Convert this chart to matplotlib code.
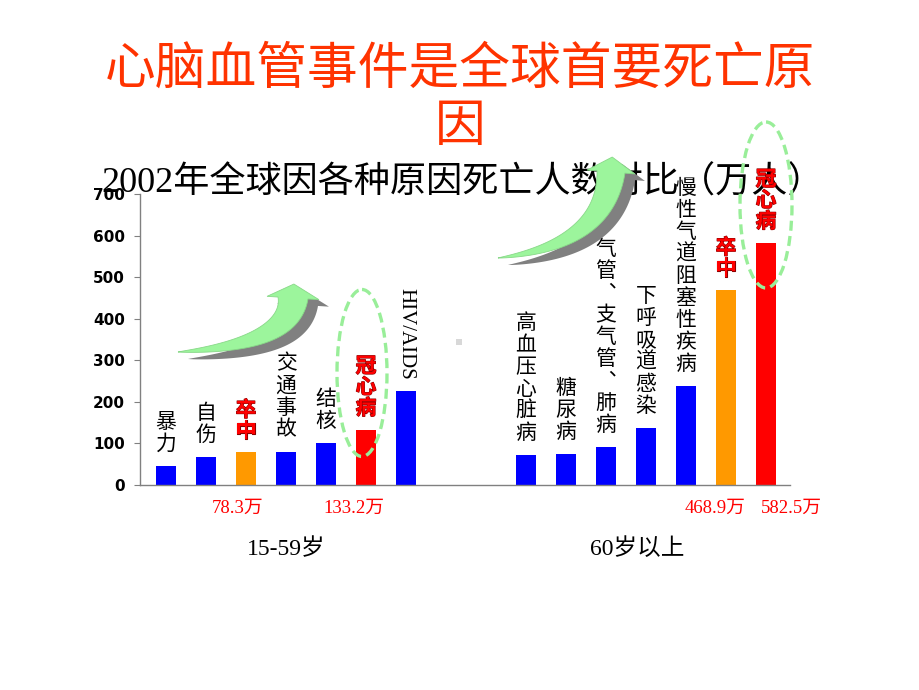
import numpy as np
import matplotlib
matplotlib.use("Agg")
import matplotlib.pyplot as plt
from matplotlib.patches import Polygon, Ellipse, Rectangle
import matplotlib.patheffects as pe

plt.rcParams['font.family'] = ['Noto Sans CJK SC', 'DejaVu Sans']

# ---------------- data ----------------
young_causes = ["暴力", "自伤", "卒中", "交通事故", "结核", "冠心病", "HIV/AIDS"]
young_values = [46, 67, 78.3, 80, 101, 133.2, 226]
young_colors = ["#0000FF", "#0000FF", "#FF9900", "#0000FF", "#0000FF", "#FF0000", "#0000FF"]

old_causes = ["高血压心脏病", "糖尿病", "气管、支气管、肺病", "下呼吸道感染",
              "慢性气道阻塞性疾病", "卒中", "冠心病"]
old_values = [72, 74, 91, 137, 238, 468.9, 582.5]
old_colors = ["#0000FF", "#0000FF", "#0000FF", "#0000FF", "#0000FF", "#FF9900", "#FF0000"]

highlight = ["卒中", "冠心病"]
value_unit = "万"
group_labels = ["15-59岁", "60岁以上"]
y_ticks = [0, 100, 200, 300, 400, 500, 600, 700]

title_line1 = "心脑血管事件是全球首要死亡原"
title_line2 = "因"
subtitle = "2002年全球因各种原因死亡人数对比（万人）"

# ---------------- figure ----------------
fig = plt.figure(figsize=(9.2, 6.9), dpi=100)
W, H = 920, 690

def fx(px):
    return px / W

def fy(py):
    return 1 - py / H

fig.text(fx(460), fy(70), title_line1, color="#FF3300", fontsize=36.5,
         ha="center", va="center")
fig.text(fx(460), fy(127), title_line2, color="#FF3300", fontsize=36.5,
         ha="center", va="center")
fig.text(fx(463), fy(183), subtitle, fontsize=26, ha="center", va="center",
         family=['Liberation Serif', 'Noto Sans CJK SC'], zorder=0.5)

ax = fig.add_axes([fx(140), fy(485), fx(790) - fx(140), fy(194) - fy(485)], zorder=1)
ax.set_facecolor("none")

pos_young = list(range(len(young_causes)))
pos_old = [i + len(young_causes) + 2 for i in range(len(old_causes))]

positions = pos_young + pos_old
values = young_values + old_values
colors = young_colors + old_colors
causes = young_causes + old_causes

ax.bar(positions, values, width=0.5, color=colors, edgecolor="none", zorder=2)

ax.set_xlim(-0.65, 15.6)
ax.set_ylim(0, 700)
ax.set_yticks(y_ticks)
ax.set_yticklabels([str(v) for v in y_ticks], fontweight="bold", fontsize=11,
                   family="DejaVu Sans")
ax.tick_params(axis="y", length=4, color="#808080", pad=7)
ax.set_xticks([])
for s in ["top", "right"]:
    ax.spines[s].set_visible(False)
for s in ["left", "bottom"]:
    ax.spines[s].set_color("#808080")
    ax.spines[s].set_linewidth(1)


def vertical(name):
    return "\n".join("\ufe11" if ch == "、" else ch for ch in name)


# bar labels
for x, v, name in zip(positions, values, causes):
    if name == "HIV/AIDS":
        ax.annotate(name, (x, v), xytext=(0, 8), textcoords="offset points",
                    ha="center", va="bottom", rotation=270, fontsize=15,
                    family="Liberation Serif", annotation_clip=False)
        continue
    txt = vertical(name)
    if name in highlight:
        t = ax.annotate(txt, (x, v), xytext=(0, 8), textcoords="offset points",
                        ha="center", va="bottom", fontsize=15, color="#FF0000",
                        fontweight="bold", linespacing=1.0, annotation_clip=False)
        t.set_path_effects([pe.Stroke(linewidth=0.8, foreground="#8A0000"), pe.Normal()])
    else:
        ax.annotate(txt, (x, v), xytext=(0, 8), textcoords="offset points",
                    ha="center", va="bottom", fontsize=15, color="black",
                    linespacing=1.0, annotation_clip=False)

# value notes under highlighted bars
note_offsets = [-6, -9, -8, 18]
k = 0
for x, v, name in zip(positions, values, causes):
    if name in highlight:
        ax.annotate(f"{v:.1f}{value_unit}", (x, 0), xytext=(note_offsets[k], -17),
                    textcoords="offset points", ha="center", va="center",
                    fontsize=13.5, color="#FF0000",
                    family=['Liberation Serif', 'Noto Sans CJK SC'],
                    annotation_clip=False)
        k += 1

# group labels
ax.annotate(group_labels[0], (np.mean(pos_young), 0), xytext=(0, -46),
            textcoords="offset points", ha="center", va="center", fontsize=17,
            family=['Liberation Serif', 'Noto Sans CJK SC'], annotation_clip=False)
ax.annotate(group_labels[1], (np.mean(pos_old), 0), xytext=(-6, -46),
            textcoords="offset points", ha="center", va="center", fontsize=17,
            family=['Liberation Serif', 'Noto Sans CJK SC'], annotation_clip=False)

# ---------------- decorations overlay (pixel coords) ----------------
ov = fig.add_axes([0, 0, 1, 1], zorder=2)
ov.set_xlim(0, W)
ov.set_ylim(H, 0)
ov.axis("off")
ov.set_facecolor("none")


def arrow_poly(tail, ctrl, neck, w_neck, head_half, head_len):
    P0, P1, P2 = map(np.array, (tail, ctrl, neck))
    t = np.linspace(0, 1, 80)[:, None]
    B = (1 - t) ** 2 * P0 + 2 * (1 - t) * t * P1 + t ** 2 * P2
    dB = 2 * (1 - t) * (P1 - P0) + 2 * t * (P2 - P1)
    T = dB / np.linalg.norm(dB, axis=1, keepdims=True)
    N = np.column_stack([-T[:, 1], T[:, 0]])
    w = (w_neck / 2) * t[:, 0] ** 0.85
    left = B + N * w[:, None]
    right = B - N * w[:, None]
    Te, Ne = T[-1], N[-1]
    head = [P2 + Ne * head_half, P2 + Te * head_len, P2 - Ne * head_half]
    return np.vstack([left, head, right[::-1]])


def draw_arrow(tail, ctrl, neck, w_neck, head_half, head_len, shadow_off):
    pts = arrow_poly(tail, ctrl, neck, w_neck, head_half, head_len)
    sh = pts + np.array(shadow_off)
    ov.add_patch(Polygon(sh, closed=True, facecolor="#808080", edgecolor="none", zorder=1))
    ov.add_patch(Polygon(pts, closed=True, facecolor="#9CF59C", edgecolor="#88D888",
                         linewidth=0.6, zorder=2))


draw_arrow((178, 352), (290, 345), (293, 298), 30, 26, 14, (10, 7))
draw_arrow((498, 258), (605, 245), (611, 172), 28, 24, 15, (10, 7))

for c, w_, h_ in [((362, 373), 50, 167), ((766, 205), 52, 166)]:
    ov.add_patch(Ellipse(c, w_, h_, facecolor="none", edgecolor="#99EE99",
                         linewidth=2.4, linestyle=(0, (3, 1.6)), zorder=3))

ov.add_patch(Rectangle((456, 339), 6, 6, facecolor="#D8D8D8", edgecolor="none"))

fig.savefig("out.png", dpi=100)
